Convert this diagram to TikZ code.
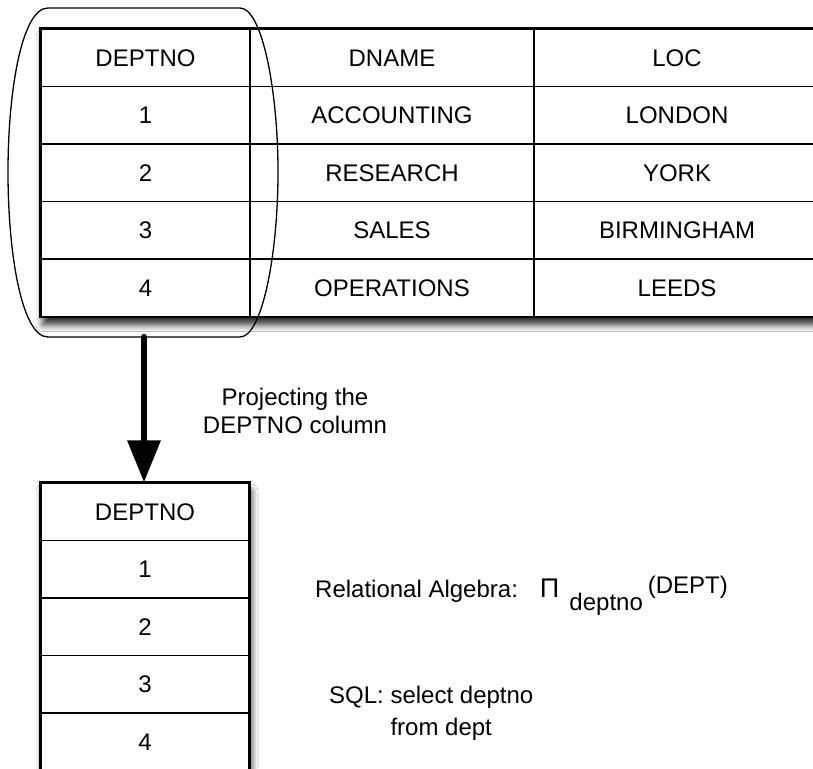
\documentclass[tikz,border=0pt]{standalone}
\usepackage{fontspec}
\setmainfont{Liberation Sans}
\usetikzlibrary{arrows.meta,shadows.blur}
\tikzset{
 txt/.style={font=\fontsize{24}{28}\selectfont, inner sep=0pt},
 cell/.style={txt, draw=black, line width=1.2pt, minimum height=57.5pt, fill=white},
 frame/.style={draw=black, line width=2pt},
 sel/.style={draw=black, line width=1.3pt},
 proj/.style={draw=black, line width=6.5pt, line cap=round, -{Triangle[length=42pt,width=32pt,fill=black]}},
 tshadow/.style={fill=white, blur shadow={shadow xshift=2pt, shadow yshift=-8pt, shadow blur radius=7pt, shadow opacity=85}}
}
\begin{document}
\begin{tikzpicture}[x=1pt,y=-1pt]
\useasboundingbox (0,0) rectangle (813,768);
\clip (0,0) rectangle (813,768);
\fill[white] (0,0) rectangle (813,768);
% big table
\path[tshadow] (41,29) rectangle (820,316.5);
\foreach \rr/\xa/\xb/\xc in {0/DEPTNO/DNAME/LOC,1/1/ACCOUNTING/LONDON,2/2/RESEARCH/YORK,3/3/SALES/BIRMINGHAM,4/4/OPERATIONS/LEEDS}{
  \node[cell, minimum width=209pt] (t\rr a) at (145.5,{57.75+57.5*\rr}) {\xa};
  \node[cell, minimum width=284pt] (t\rr b) at (392,{57.75+57.5*\rr}) {\xb};
  \node[cell, minimum width=286pt] (t\rr c) at (677,{57.75+57.5*\rr}) {\xc};
}
\draw[frame] (t0a.north west) rectangle (t4c.south east);
% selection outline
\draw[sel] (48,8) -- (240,8) .. controls (262,8) and (278,90) .. (278,172)
  .. controls (278,255) and (262,337) .. (240,337) -- (48,337)
  .. controls (22,337) and (8,255) .. (8,172)
  .. controls (8,90) and (22,8) .. (48,8) -- cycle;
\coordinate (selbot) at (144,337);
% small table
\path[tshadow] (41,483) rectangle (249,770.5);
\foreach \rr/\xa in {0/DEPTNO,1/1,2/2,3/3,4/4}{
  \node[cell, minimum width=208pt] (s\rr) at (145,{511.75+57.5*\rr}) {\xa};
}
\draw[frame] (s0.north west) rectangle (s4.south east);
% arrow
\draw[proj] (selbot) -- (selbot |- s0.north);
% texts
\node[txt, anchor=north, align=center] (lbl) at (295,387.5) {Projecting the\\DEPTNO column};
\node[txt, anchor=base west] (ra) at (315,597) {Relational Algebra:\hspace{22pt}{\fontsize{27}{28}\selectfont Π}\hspace{10pt}\raisebox{-13pt}{deptno}\hspace{5pt}\raisebox{4pt}{(DEPT)}};
\node[txt, anchor=north west, align=left] (sql) at (329,685.5) {SQL: select deptno\\[4pt]\phantom{SQL: }from dept};
\end{tikzpicture}
\end{document}
